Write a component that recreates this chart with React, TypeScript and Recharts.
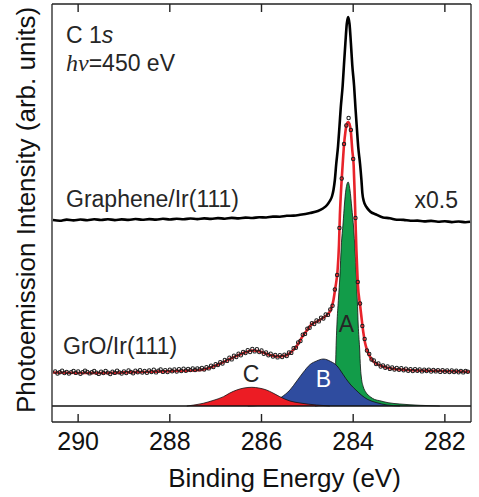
import React from "react";
import { ComposedChart, Line, Area, Scatter, XAxis, YAxis, ReferenceLine } from "recharts";

const W = 479;
const H = 497;
const FONT = "'Liberation Sans', Arial, Helvetica, sans-serif";
const SERIF = "'Liberation Serif', 'Times New Roman', serif";
const INK = "#222";

// layout
const TOP = 4;
const BOTTOM_AXIS_H = 75;
const PLOT_BOTTOM = H - BOTTOM_AXIS_H;
const TICK_LEN = 8;

const xTicks = [282, 284, 286, 288, 290];
const xDomain = [281.43, 290.57];
const yDomain = [-16, 402];

// Graphene/Ir(111) reference spectrum (x0.5, offset)
const grapheneEnergy = [
  290.55, 290.4, 290.25, 290.1, 289.95, 289.8, 289.65, 289.5, 289.35, 289.2,
  289.05, 288.9, 288.75, 288.6, 288.45, 288.3, 288.15, 288.0, 287.85, 287.7,
  287.55, 287.4, 287.25, 287.1, 286.95, 286.8, 286.65, 286.5, 286.35, 286.2,
  286.05, 285.9, 285.75, 285.6, 285.45, 285.3, 285.16, 284.94, 284.77, 284.66,
  284.57, 284.51, 284.46, 284.43, 284.4, 284.37, 284.33, 284.3, 284.27, 284.23,
  284.2, 284.17, 284.14, 284.11, 284.08, 284.05, 284.02, 283.98, 283.95, 283.92,
  283.89, 283.85, 283.82, 283.8, 283.77, 283.71, 283.63, 283.5, 283.35, 283.2,
  283.05, 282.9, 282.75, 282.6, 282.45, 282.3, 282.15, 282.0, 281.85, 281.7,
  281.55, 281.45,
];
const grapheneIntensity = [
  186, 185.3, 186.4, 185.6, 186.5, 185.8, 186.7, 186.0, 186.8, 185.9,
  186.6, 186.1, 187.0, 186.2, 186.9, 186.4, 187.2, 186.5, 187.3, 186.7,
  187.5, 186.9, 187.6, 187.1, 187.9, 187.3, 188.1, 187.6, 188.4, 188.0,
  188.8, 188.5, 189.4, 189.3, 190.2, 190.4, 191.2, 193, 195, 197.5,
  201, 205, 210, 216, 226, 242, 260, 279, 299, 320,
  342, 363, 382, 389, 382, 363, 341, 320, 298, 278,
  259, 242, 226, 213, 205, 199, 194.5, 191.5, 188.5, 187.8,
  186.3, 186.1, 185.2, 185.4, 184.6, 185.1, 184.3, 184.8, 183.9, 184.5,
  183.8, 184.2,
];

// GrO/Ir(111) measured points, 0.05 eV steps from 290.50 down to 281.50
const groStart = 290.5;
const groStep = 0.05;
const groCounts = [
  34.5, 32.5, 33.8, 35.2, 33.0, 34.1, 32.4, 33.9, 35.0, 33.1, // 290.50
  34.6, 32.2, 33.7, 35.3, 34.0, 32.6, 33.8, 35.1, 33.3, 32.1, // 290.00
  34.2, 33.0, 35.0, 33.4, 32.0, 34.3, 33.1, 35.4, 33.6, 32.5, // 289.50
  34.6, 33.0, 35.5, 34.0, 32.8, 35.2, 33.7, 35.8, 33.4, 35.0, // 289.00
  33.2, 35.6, 34.0, 36.2, 33.6, 35.4, 36.5, 34.1, 35.9, 34.0, // 288.50
  36.4, 34.8, 36.6, 34.5, 36.9, 35.0, 37.2, 35.3, 37.0, 35.9, // 288.00
  37.6, 36.0, 37.5, 36.6, 38.1, 36.4, 38.9, 37.6, 40.4, 39.0, // 287.50
  41.8, 40.9, 43.8, 42.5, 46.0, 45.1, 48.2, 46.6, 50.3, 49.0, // 287.00
  52.4, 50.7, 54.0, 53.0, 55.9, 53.9, 57.0, 54.6, 56.8, 53.9, // 286.50
  55.5, 52.3, 53.6, 50.8, 52.2, 49.4, 51.1, 48.6, 50.9, 49.0, // 286.00
  51.4, 50.0, 53.5, 53.1, 57.8, 58.2, 63.6, 65.0, 71.2, 72.1, // 285.50
  77.4, 78.2, 82.9, 82.0, 85.6, 84.6, 88.4, 87.4, 91.5, 91.1, // 285.00
  96.6, 100.2, 116.5, 131, 178, 227.5, 262, 280.5, 288, 276, // 284.50
  247, 188, 124, 102.5, 80, 67, 55.5, 52, 46.5, 45.6, // 284.00
  42.0, 42.5, 39.5, 40.6, 38.2, 39.6, 37.1, 38.6, 36.5, 38.0, // 283.50
  36.3, 37.8, 35.7, 37.2, 35.2, 36.8, 35.0, 36.9, 35.2, 36.5, // 283.00
  34.6, 36.3, 35.0, 36.4, 34.4, 36.0, 34.6, 35.9, 34.1, 35.8, // 282.50
  34.3, 35.6, 33.9, 35.5, 34.0, 35.3, 33.7, 35.1, 33.6, 35.0, // 282.00
  34.2, // 281.50
];

// total fit
const fitEnergy = [
  290.55, 289.52, 288.43, 287.34, 286.97, 286.62, 286.36, 286.19, 286.08, 285.97,
  285.88, 285.77, 285.64, 285.53, 285.44, 285.33, 285.23, 285.1, 285.01, 284.92,
  284.79, 284.66, 284.55, 284.49, 284.43, 284.39, 284.34, 284.31, 284.29, 284.27,
  284.23, 284.2, 284.17, 284.14, 284.11, 284.08, 284.05, 284.02, 283.99, 283.97,
  283.95, 283.93, 283.9, 283.85, 283.82, 283.78, 283.74, 283.69, 283.63, 283.57,
  283.48, 283.35, 283.2, 282.83, 282.11, 281.45,
];
const fitIntensity = [
  33.5, 33, 34.3, 36, 41, 48.5, 53.5, 55.5, 55, 53.5,
  52, 50.5, 49.5, 50, 51, 55, 60, 70, 75.5, 81,
  84.5, 88, 92, 96, 106, 118, 136, 161, 191, 211,
  241, 261, 274, 282, 284, 282, 274, 256, 241, 216,
  186, 156, 123, 101, 89, 74, 63, 55, 49, 45,
  42, 39.5, 37.7, 36, 35, 34.3,
];

// fit components
const compAEnergy = [
  284.83, 284.68, 284.55, 284.46, 284.39, 284.37, 284.35, 284.32, 284.29, 284.26,
  284.22, 284.19, 284.16, 284.11, 284.07, 284.03, 283.99, 283.96, 283.93, 283.91,
  283.89, 283.86, 283.84, 283.82, 283.78, 283.72, 283.63, 283.53, 283.42, 283.24,
  282.98, 282.54, 282.11,
];
const compAIntensity = [
  0, 1.5, 6, 16, 34, 64, 86, 108, 130, 160,
  183, 202, 216, 224, 216, 198, 178, 156, 129, 106,
  81, 58, 38, 28, 19.3, 13.5, 9.3, 6.5, 5.3, 3.3,
  2, 0.7, 0,
];
const compBEnergy = [
  286.3, 286.03, 285.82, 285.56, 285.38, 285.23, 285.1, 284.94, 284.8, 284.65,
  284.49, 284.35, 284.27, 284.16, 284.05, 283.94, 283.81, 283.68, 283.5, 283.26,
  282.98,
];
const compBIntensity = [
  0, 0.7, 3, 9, 16, 25, 33, 41.5, 45, 47,
  44.5, 40, 35, 27.5, 21, 16, 10.5, 6.5, 3.5, 1,
  0,
];
const compCEnergy = [
  287.63, 287.27, 287.06, 286.83, 286.69, 286.54, 286.38, 286.21, 286.06, 285.89,
  285.75, 285.6, 285.38, 285.16, 284.8, 284.51,
];
const compCIntensity = [0, 2.7, 5.5, 9.3, 13, 16, 18, 18.7, 18, 16, 13, 9.3, 5, 3, 1, 0];

type Pt = { e: number; v: number };
const pair = (es: number[], vs: number[]): Pt[] => es.map((e, i) => ({ e, v: vs[i] }));

const grapheneData = pair(grapheneEnergy, grapheneIntensity);
const groEnergy = groCounts.map((_, i) => Math.round((groStart - i * groStep) * 100) / 100);
const groData = pair(groEnergy, groCounts);
const fitData = pair(fitEnergy, fitIntensity);
const compA = pair(compAEnergy, compAIntensity);
const compB = pair(compBEnergy, compBIntensity);
const compC = pair(compCEnergy, compCIntensity);

const frame = { stroke: INK, strokeWidth: 1.3 };

function OpenCircle(props: any) {
  const { cx, cy } = props;
  if (cx == null || cy == null) return null;
  return <circle cx={cx} cy={cy} r={1.7} fill="none" stroke="#1c1c1c" strokeWidth={1.05} />;
}

// bottom tick: inward tick mark + label
function BottomTick(props: any) {
  const { x, payload } = props;
  return (
    <g>
      <line x1={x} x2={x} y1={PLOT_BOTTOM} y2={PLOT_BOTTOM - TICK_LEN} stroke={INK} strokeWidth={1.4} />
      <text x={x} y={PLOT_BOTTOM + 28} textAnchor="middle" fontSize={25} fill="#111" fontFamily={FONT}>
        {payload.value}
      </text>
    </g>
  );
}

function TopTick(props: any) {
  const { x } = props;
  return <line x1={x} x2={x} y1={TOP} y2={TOP + TICK_LEN} stroke={INK} strokeWidth={1.4} />;
}

export default function App() {
  return (
    <div style={{ position: "absolute", left: 0, top: 0, width: W, height: H, background: "#fff" }}>
      <ComposedChart width={W} height={H} margin={{ top: 0, right: 0, bottom: 0, left: 0 }}>
        <XAxis
          dataKey="e"
          type="number"
          domain={xDomain}
          reversed
          allowDataOverflow
          ticks={xTicks}
          interval={0}
          height={BOTTOM_AXIS_H}
          tickLine={false}
          axisLine={frame}
          tick={<BottomTick />}
        />
        <XAxis
          xAxisId="top"
          orientation="top"
          dataKey="e"
          type="number"
          domain={xDomain}
          reversed
          allowDataOverflow
          ticks={xTicks}
          interval={0}
          height={TOP}
          tickLine={false}
          axisLine={frame}
          tick={<TopTick />}
        />
        <YAxis type="number" domain={yDomain} allowDataOverflow width={52} tick={false} tickLine={false} axisLine={frame} />
        <YAxis yAxisId="r" orientation="right" type="number" domain={yDomain} width={8} tick={false} tickLine={false} axisLine={frame} />

        <ReferenceLine y={0} stroke="#111" strokeWidth={1.4} />

        <Area data={compA} dataKey="v" type="monotone" baseValue={0} fill="#129c49" fillOpacity={1} stroke="#111" strokeWidth={0.8} isAnimationActive={false} zIndex={101} />
        <Area data={compB} dataKey="v" type="monotone" baseValue={0} fill="#2f4c9f" fillOpacity={1} stroke="#111" strokeWidth={0.8} isAnimationActive={false} zIndex={102} />
        <Area data={compC} dataKey="v" type="monotone" baseValue={0} fill="#ec1c24" fillOpacity={1} stroke="#111" strokeWidth={0.8} isAnimationActive={false} zIndex={103} />

        <Line data={grapheneData} dataKey="v" type="monotone" stroke="#000" strokeWidth={2.6} dot={false} activeDot={false} isAnimationActive={false} />
        <Scatter data={groData} dataKey="v" shape={OpenCircle} isAnimationActive={false} />
        <Line data={fitData} dataKey="v" type="monotone" stroke="#e8232a" strokeWidth={2.6} dot={false} activeDot={false} isAnimationActive={false} />
      </ComposedChart>

      <svg width={W} height={H} style={{ position: "absolute", left: 0, top: 0, pointerEvents: "none" }} fontFamily={FONT} fill="#262626">
        <text x={66} y={43} fontSize={23}>
          C 1<tspan fontStyle="italic">s</tspan>
        </text>
        <text x={66} y={71} fontSize={23}>
          <tspan fontFamily={SERIF} fontStyle="italic" fontSize={24}>hν</tspan>=450 eV
        </text>
        <text x={66} y={207} fontSize={23}>Graphene/Ir(111)</text>
        <text x={458} y={208} fontSize={23} textAnchor="end">x0.5</text>
        <text x={63} y={354} fontSize={23}>GrO/Ir(111)</text>
        <text x={346.5} y={332} fontSize={23} textAnchor="middle">A</text>
        <text x={323.5} y={387} fontSize={23} textAnchor="middle" fill="#fff">B</text>
        <text x={251} y={382} fontSize={23} textAnchor="middle">C</text>
        <text x={284.5} y={487} fontSize={26} textAnchor="middle" fill="#111">Binding Energy (eV)</text>
        <text transform="translate(35,210) rotate(-90)" fontSize={26} textAnchor="middle" fill="#111">
          Photoemission Intensity (arb. units)
        </text>
      </svg>
    </div>
  );
}
